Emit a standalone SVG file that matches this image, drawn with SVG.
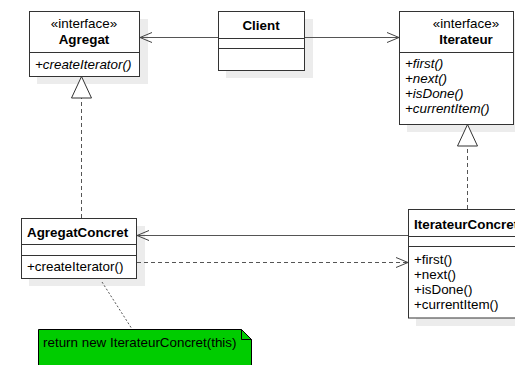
<svg xmlns="http://www.w3.org/2000/svg" width="515" height="365" viewBox="0 0 515 365">
  <style>
    text { font-family: "Liberation Sans", Arial, sans-serif; font-size: 13.4px; fill: #000; }
    .name { font-weight: bold; }
    .abs { font-style: italic; }
    .mid { text-anchor: middle; }
    .box { fill: #fff; stroke: #333; stroke-width: 1; }
    .shadow { fill: #ececec; stroke: none; }
    .sep { stroke: #333; stroke-width: 1; }
    .edge { fill: none; stroke: #555; stroke-width: 1; }
    .dash { stroke-dasharray: 4 3; }
    .dot { stroke-dasharray: 2 2; }
    .head { fill: none; stroke: #444; stroke-width: 1; }
    .tri { fill: #fff; stroke: #333; stroke-width: 1; }
  </style>

  <!-- class shadows -->
  <g id="shadows">
    <rect class="shadow" x="37" y="19" width="111" height="65"/>
    <rect class="shadow" x="226" y="19" width="87" height="59"/>
    <rect class="shadow" x="407" y="19" width="115" height="113"/>
    <rect class="shadow" x="29" y="226" width="116" height="60"/>
    <rect class="shadow" x="416" y="217" width="130" height="109"/>
  </g>

  <!-- connectors -->
  <g id="connectors">
    <!-- Client uses Agregat -->
    <line class="edge" x1="218" y1="37.5" x2="140" y2="37.5"/>
    <polyline class="head" points="152,32.5 140,37.5 152,42.5"/>
    <!-- Client uses Iterateur -->
    <line class="edge" x1="305" y1="37.5" x2="399" y2="37.5"/>
    <polyline class="head" points="387,32.5 399,37.5 387,42.5"/>
    <!-- IterateurConcret references AgregatConcret -->
    <line class="edge" x1="408" y1="235.5" x2="137" y2="235.5"/>
    <polyline class="head" points="149,230.5 137,235.5 149,240.5"/>
    <!-- AgregatConcret creates IterateurConcret -->
    <line class="edge dash" x1="137" y1="262.5" x2="407" y2="262.5"/>
    <polyline class="head" points="396,257.5 408,262.5 396,267.5"/>
    <!-- AgregatConcret realizes Agregat -->
    <line class="edge dash" x1="81.5" y1="218" x2="81.5" y2="98"/>
    <polygon class="tri" points="81.5,76.5 71.5,98 91.5,98"/>
    <!-- IterateurConcret realizes Iterateur -->
    <line class="edge dash" x1="467.5" y1="209" x2="467.5" y2="146"/>
    <polygon class="tri" points="467.5,124.5 457.5,146 477.5,146"/>
    <!-- note anchor -->
    <line class="edge dot" x1="102" y1="282" x2="132" y2="329"/>
  </g>

  <g id="Agregat">
    <rect class="box" x="29.5" y="11.5" width="110" height="65"/>
    <line class="sep" x1="29.5" y1="52.5" x2="139.5" y2="52.5"/>
    <text class="mid" x="84" y="28">«interface»</text>
    <text class="name mid" x="84" y="44">Agregat</text>
    <text class="abs" x="35" y="69">+createIterator()</text>
  </g>

  <g id="Client">
    <rect class="box" x="218.5" y="11.5" width="86" height="59"/>
    <line class="sep" x1="218.5" y1="38.5" x2="304.5" y2="38.5"/>
    <line class="sep" x1="218.5" y1="48.5" x2="304.5" y2="48.5"/>
    <text class="name mid" x="261" y="29.5">Client</text>
  </g>

  <g id="Iterateur">
    <rect class="box" x="399.5" y="11.5" width="114" height="113"/>
    <line class="sep" x1="399.5" y1="52.5" x2="513.5" y2="52.5"/>
    <text class="mid" x="466" y="28">«interface»</text>
    <text class="name mid" x="466" y="44">Iterateur</text>
    <text class="abs" x="405" y="68">+first()</text>
    <text class="abs" x="405" y="83">+next()</text>
    <text class="abs" x="405" y="98">+isDone()</text>
    <text class="abs" x="405" y="113">+currentItem()</text>
  </g>

  <g id="AgregatConcret">
    <rect class="box" x="21.5" y="218.5" width="115" height="60"/>
    <line class="sep" x1="21.5" y1="244.5" x2="136.5" y2="244.5"/>
    <line class="sep" x1="21.5" y1="255.5" x2="136.5" y2="255.5"/>
    <text class="name" x="27" y="237">AgregatConcret</text>
    <text x="27" y="271">+createIterator()</text>
  </g>

  <g id="IterateurConcret">
    <rect class="box" x="408.5" y="209.5" width="130" height="108.5"/>
    <line class="sep" x1="408.5" y1="236.5" x2="538.5" y2="236.5"/>
    <line class="sep" x1="408.5" y1="246.5" x2="538.5" y2="246.5"/>
    <text class="name" x="414" y="229">IterateurConcret</text>
    <text x="414" y="264">+first()</text>
    <text x="414" y="279">+next()</text>
    <text x="414" y="294">+isDone()</text>
    <text x="414" y="309">+currentItem()</text>
  </g>

  <g id="note">
    <path d="M38.5,329.5 H241.5 L251.5,339.5 V372 H38.5 Z" fill="#00cc00" stroke="#000" stroke-width="1"/>
    <path d="M241.5,329.5 V339.5 H251.5" fill="none" stroke="#000" stroke-width="1"/>
    <text x="43" y="347">return new IterateurConcret(this)</text>
  </g>
</svg>
